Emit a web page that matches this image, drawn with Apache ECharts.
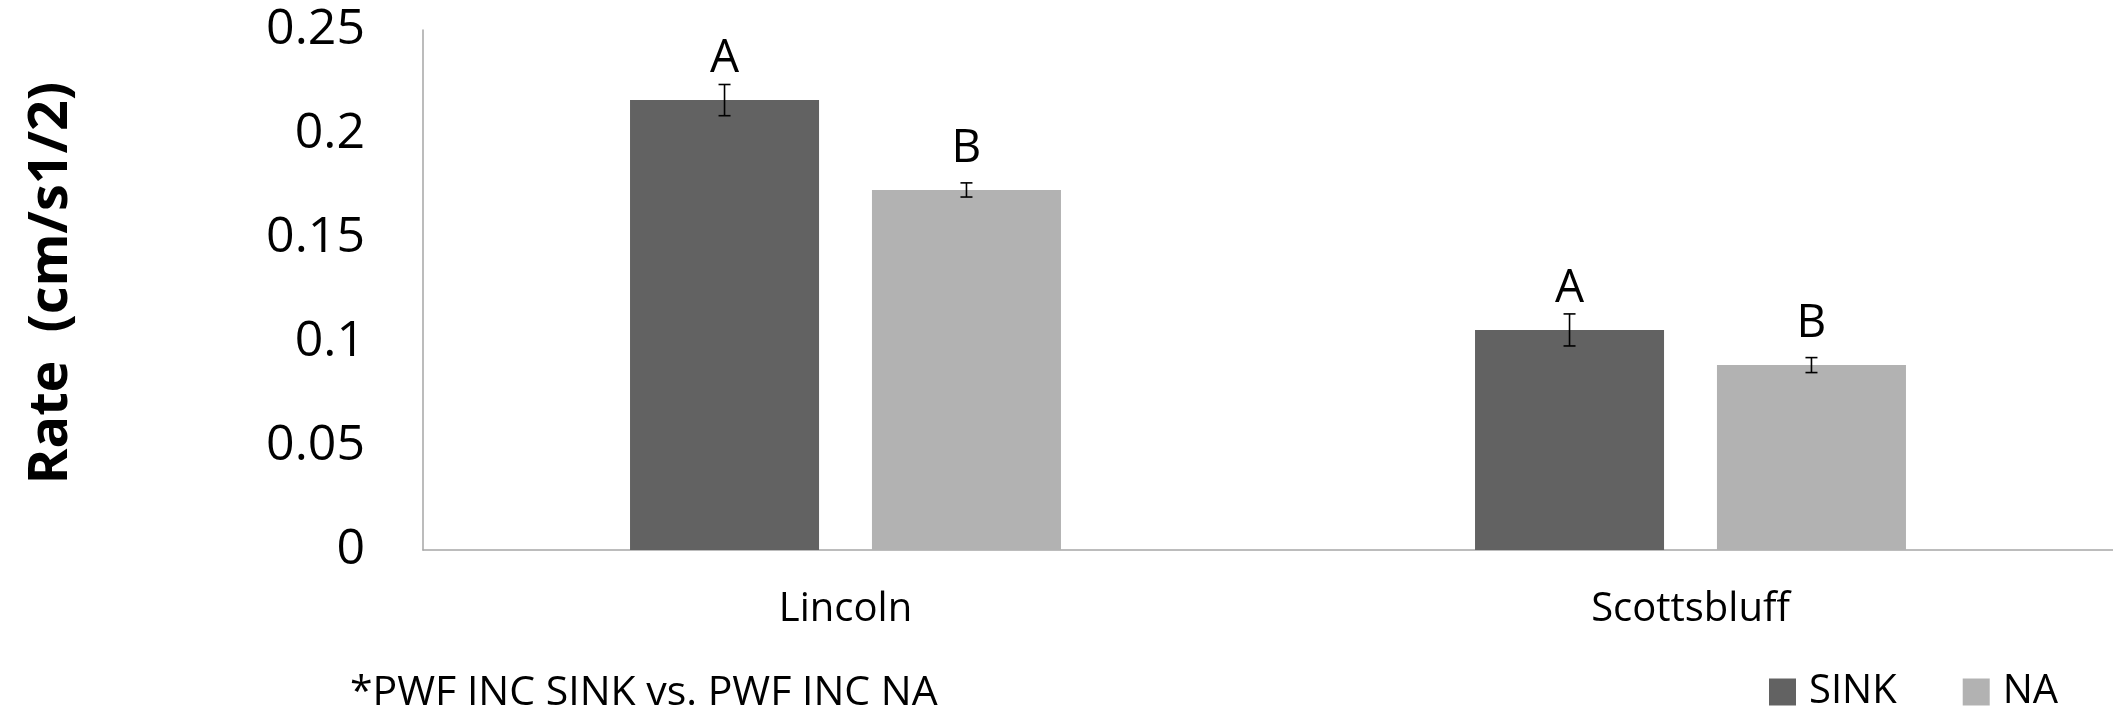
<!DOCTYPE html>
<html>
<head>
<meta charset="utf-8">
<script src="https://cdn.jsdelivr.net/npm/echarts@6/dist/echarts.min.js"></script>
<style>
html,body{margin:0;padding:0;background:#fff;}
#chart{width:2113px;height:715px;}
</style>
</head>
<body>
<div id="chart"></div>
<script>
const categories = ['Lincoln', 'Scottsbluff'];
const seriesNames = ['SINK', 'NA'];
const sinkValues = [0.2163, 0.1058];
const naValues = [0.1731, 0.0889];
const sinkErrors = [0.0075, 0.0077];
const naErrors = [0.0034, 0.0036];
const sinkLetters = ['A', 'A'];
const naLetters = ['B', 'B'];
const yTickLabels = ['0', '0.05', '0.1', '0.15', '0.2', '0.25'];
const yAxisTitle = 'Rate  (cm/s1/2)';
const footnote = '*PWF INC SINK vs. PWF INC NA';

const colors = ['#626262', '#b2b2b2'];
const CAT_GAP = 0.49, BAR_GAP = 0.28;
const FONT = '"Open Sans", "Noto Sans", sans-serif';

function errorRender(seriesIdx) {
  return function (params, api) {
    const x = api.value(0), v = api.value(1), e = api.value(2);
    const band = api.size([1, 0])[0];
    const bw = band * (1 - CAT_GAP) / (2 + BAR_GAP);
    const total = 2 * bw + BAR_GAP * bw;
    const off = -total / 2 + seriesIdx * bw * (1 + BAR_GAP) + bw / 2;
    const hi = api.coord([x, v + e]);
    const lo = api.coord([x, v - e]);
    const cx = hi[0] + off;
    const cap = 6;
    const style = { stroke: '#000', lineWidth: 1.6 };
    return {
      type: 'group',
      children: [
        { type: 'line', shape: { x1: cx, y1: hi[1], x2: cx, y2: lo[1] }, style },
        { type: 'line', shape: { x1: cx - cap, y1: hi[1], x2: cx + cap, y2: hi[1] }, style },
        { type: 'line', shape: { x1: cx - cap, y1: lo[1], x2: cx + cap, y2: lo[1] }, style }
      ]
    };
  };
}

const chart = echarts.init(document.getElementById('chart'), null, { renderer: 'canvas' });
chart.setOption({
  animation: false,
  backgroundColor: '#fff',
  grid: { left: 423, right: 0, top: 30, bottom: 165, containLabel: false },
  legend: {
    data: seriesNames,
    left: 1764,
    top: 667,
    itemWidth: 27,
    itemHeight: 27,
    itemGap: 66,
    icon: 'rect',
    textStyle: { fontFamily: FONT, fontSize: 40, color: '#000', padding: [0, 0, 0, 8] }
  },
  xAxis: {
    type: 'category',
    data: categories,
    axisLine: { lineStyle: { color: '#a6a6a6', width: 1.5 } },
    axisTick: { show: false },
    axisLabel: { fontFamily: FONT, fontSize: 40, color: '#000', margin: 40 },
    splitLine: { show: false }
  },
  yAxis: {
    type: 'value',
    min: 0,
    max: 0.25,
    interval: 0.05,
    axisLine: { show: true, lineStyle: { color: '#a6a6a6', width: 1.5 } },
    axisTick: { show: false },
    splitLine: { show: false },
    axisLabel: {
      fontFamily: FONT, fontSize: 50, color: '#000', margin: 58,
      formatter: function (val) {
        const i = Math.round(val / 0.05);
        return yTickLabels[i] !== undefined ? yTickLabels[i] : String(val);
      }
    }
  },
  graphic: [
    {
      type: 'text',
      x: 52, y: 283,
      rotation: Math.PI / 2,
      style: {
        text: yAxisTitle, fontFamily: FONT, fontSize: 54, fontWeight: 'bold',
        fill: '#000', textAlign: 'center', textVerticalAlign: 'middle'
      }
    },
    {
      type: 'text',
      left: 350, top: 673,
      style: { text: footnote, fontFamily: FONT, fontSize: 41, fill: '#000' }
    }
  ],
  series: [
    {
      name: seriesNames[0], type: 'bar', data: sinkValues,
      barCategoryGap: (CAT_GAP * 100) + '%', barGap: (BAR_GAP * 100) + '%',
      itemStyle: { color: colors[0] },
      label: {
        show: true, position: 'top', distance: 18,
        fontFamily: FONT, fontSize: 46, color: '#000',
        formatter: p => sinkLetters[p.dataIndex]
      }
    },
    {
      name: seriesNames[1], type: 'bar', data: naValues,
      barCategoryGap: (CAT_GAP * 100) + '%', barGap: (BAR_GAP * 100) + '%',
      itemStyle: { color: colors[1] },
      label: {
        show: true, position: 'top', distance: 18,
        fontFamily: FONT, fontSize: 46, color: '#000',
        formatter: p => naLetters[p.dataIndex]
      }
    },
    {
      type: 'custom', name: 'errSINK', renderItem: errorRender(0), z: 10,
      data: sinkValues.map((v, i) => [i, v, sinkErrors[i]]),
      encode: { x: 0, y: 1 }, silent: true
    },
    {
      type: 'custom', name: 'errNA', renderItem: errorRender(1), z: 10,
      data: naValues.map((v, i) => [i, v, naErrors[i]]),
      encode: { x: 0, y: 1 }, silent: true
    }
  ]
});
</script>
</body>
</html>
